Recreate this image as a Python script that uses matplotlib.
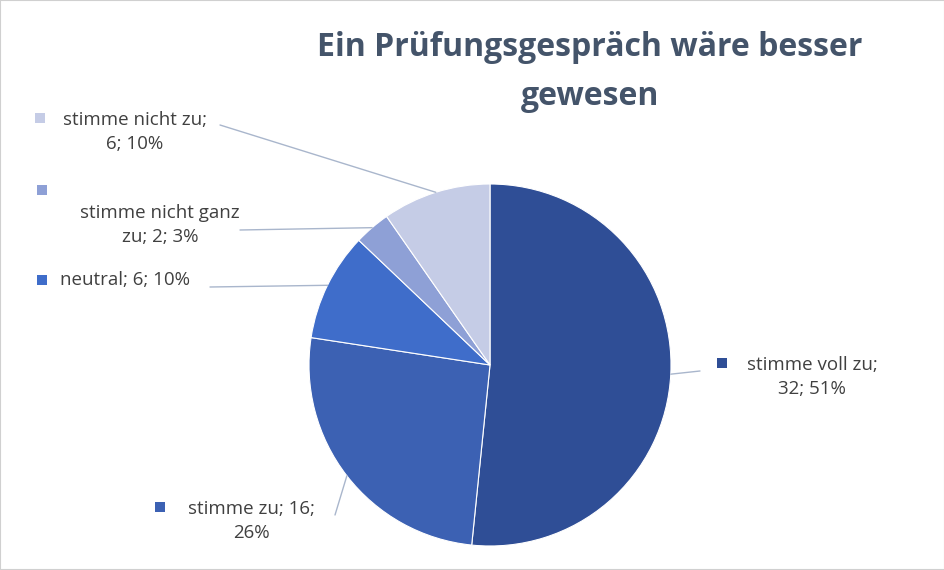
import numpy as np
import matplotlib.pyplot as plt
from matplotlib.patches import Rectangle

plt.rcParams['font.family'] = ['Open Sans', 'DejaVu Sans']

categories = ['stimme voll zu', 'stimme zu', 'neutral', 'stimme nicht ganz zu', 'stimme nicht zu']
values = [32, 16, 6, 2, 6]
percents = ['51%', '26%', '10%', '3%', '10%']
colors = ['#2F4E96', '#3C61B3', '#3F6DCA', '#8EA0D6', '#C5CCE6']
label_texts = ['stimme voll zu;\n32; 51%', 'stimme zu; 16;\n26%', 'neutral; 6; 10%',
               'stimme nicht ganz\nzu; 2; 3%', 'stimme nicht zu;\n6; 10%']

W, H = 945, 570
fig = plt.figure(figsize=(W/100, H/100), dpi=100)
fig.patch.set_facecolor('white')
fig.add_artist(Rectangle((0, 0), 1, 1, transform=fig.transFigure, fill=False, ec='#D0D0D0', lw=1.5))

cx, cy, r = 490, 365, 181
ax = fig.add_axes([(cx-r)/W, 1-(cy+r)/H, 2*r/W, 2*r/H])
wedges, _ = ax.pie(values, colors=colors, startangle=90, counterclock=False,
                   wedgeprops=dict(linewidth=0.8, edgecolor='white'))
ax.set_xlim(-1, 1)
ax.set_ylim(-1, 1)
ax.set_aspect('equal')
ax.axis('off')

fig.text(590/W, 1-72/H, 'Ein Prüfungsgespräch wäre besser\ngewesen', ha='center', va='center',
         fontsize=23, fontweight='bold', color='#44546A', linespacing=1.65)

def fp(x, y):
    return (x/W, 1-y/H)

text_pos = [(812, 377, 'center'), (251, 521, 'center'), (60, 280, 'left'),
            (160, 225, 'center'), (135, 132, 'center')]
marker_pos = [(722, 363), (160, 507), (42, 280), (42, 190), (40, 118)]
line_end = [(700, 371), (335, 515), (210, 287), (240, 230), (220, 125)]

total = sum(values)
start = 90.0
for i, v in enumerate(values):
    span = v/total*360
    mid = np.deg2rad(start - span/2)
    start -= span
    edge = (np.cos(mid), np.sin(mid))
    ax.annotate('', xy=edge, xycoords='data', xytext=fp(*line_end[i]), textcoords='figure fraction',
                arrowprops=dict(arrowstyle='-', color='#A9B6CC', lw=1, shrinkA=0, shrinkB=0),
                annotation_clip=False)
    tx, ty, ha = text_pos[i]
    fig.text(*fp(tx, ty), label_texts[i], ha=ha, va='center', fontsize=13.5, color='#404040',
             linespacing=1.45, multialignment='center')
    mx, my = marker_pos[i]
    fig.add_artist(Rectangle(fp(mx-5, my+5), 10/W, 10/H, transform=fig.transFigure,
                             fc=colors[i], ec='none'))

fig.savefig('out.png', dpi=100)
